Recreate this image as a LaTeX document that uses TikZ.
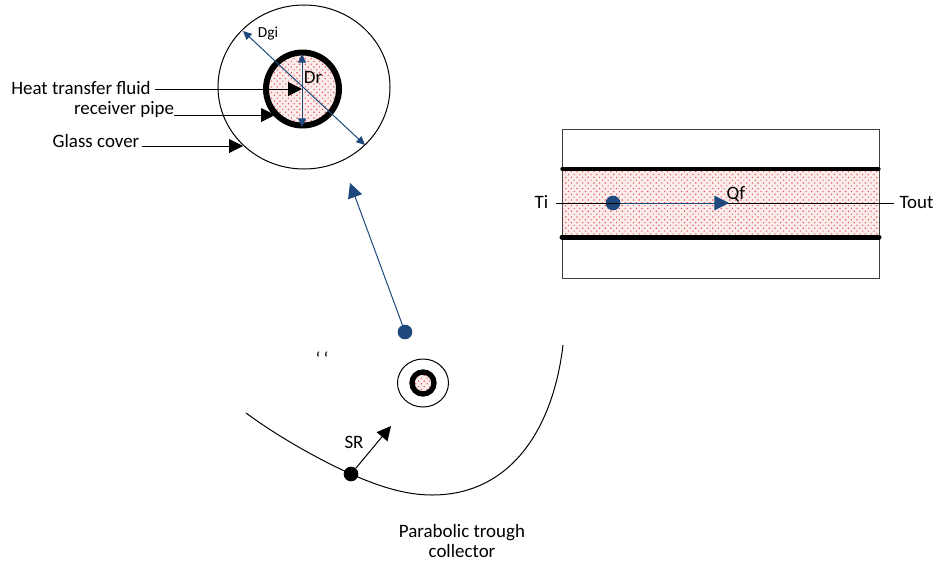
\documentclass[tikz,border=0pt]{standalone}
\usepackage{fontspec}
\setmainfont{Carlito}
\usetikzlibrary{positioning, arrows.meta, patterns.meta}
\definecolor{ink}{HTML}{000000}
\definecolor{flow}{HTML}{1F497D}
\definecolor{fluid}{HTML}{E2504A}

\begin{document}
\begin{tikzpicture}[x=0.75pt, y=-0.75pt, font=\fontsize{14.2}{15.5}\selectfont,
  lbl/.style={inner sep=0pt, align=center},
  fluidfill/.style={preaction={fill=fluid!10}, pattern={Dots[angle=45, distance=3pt, radius=0.6pt]}, pattern color=fluid},
  dotblue/.style={circle, fill=flow, inner sep=0pt, minimum size=11pt},
  dotblack/.style={circle, fill=ink, inner sep=0pt, minimum size=11pt},
  arr/.style={-{Triangle[length=10.5pt, width=10.5pt]}, line width=0.75pt},
  arrblue/.style={-{Triangle[length=11pt, width=11pt]}, line width=0.75pt, flow},
  dim/.style={{Triangle[length=6.5pt, width=6pt]}-{Triangle[length=6.5pt, width=6pt]}, line width=0.75pt, flow}
]
  \useasboundingbox (0,0) rectangle (936,562);

  % cross section
  \draw[line width=0.75pt] (304,87) ellipse [x radius=86, y radius=82];
  \draw[line width=4.5pt, fluidfill] (302.5,89) circle [radius=36.5];

  \node[lbl] (fluidlbl) at (81,88) {Heat transfer fluid};
  \node[lbl] (pipelbl) at (124,110) {receiver pipe};
  \node[lbl] (glasslbl) at (96,141) {Glass cover};
  \node[lbl, font=\fontsize{11.5}{13}\selectfont] (dgilbl) at (268,34) {Dgi};
  \node[lbl] (drlbl) at (313,77) {Dr};

  \coordinate (fluidend) at (302,89);
  \coordinate (pipeend) at (275,115);
  \coordinate (glassend) at (243,146);
  \coordinate (dgia) at (243,31);
  \coordinate (dgib) at (365,145);
  \coordinate (dra) at (302,54);
  \coordinate (drb) at (302,127);

  \draw[arr] (fluidlbl.east |- fluidend) ++(4,0) coordinate (fluidstart) -- (fluidend);
  \draw[arr] (pipelbl.east |- pipeend) coordinate (pipestart) -- (pipeend);
  \draw[arr] (glasslbl.east |- glassend) ++(2,0) coordinate (glassstart) -- (glassend);
  \draw[dim] (dgia) -- (dgib);
  \draw[dim] (dra) -- (drb);

  % long section
  \draw[line width=0.75pt, draw=ink!75] (562.5,129) rectangle (879,278);
  \fill[fluidfill] (562.5,169) rectangle (879,237);
  \draw[line width=2.5pt, line cap=round] (562,169) -- (879,169);
  \draw[line width=3.75pt, line cap=round] (562,237) -- (879,237);

  \node[lbl] (ti) at (541.5,202) {Ti};
  \node[lbl] (tout) at (916.5,202) {Tout};
  \node[lbl] (qf) at (736,194) {Qf};
  \node[dotblue] (inlet) at (613,203) {};
  \coordinate (qfend) at (729,203);

  \draw[line width=0.75pt] (ti.east |- inlet) ++(7,0) coordinate (tistart) -- (894,203) coordinate (toutstart);
  \draw[arrblue] (inlet) -- (qfend);

  % trough
  \draw[line width=0.75pt] (246,413) .. controls (280,438) and (320,460) .. (351,474)
    .. controls (378,486) and (405,495) .. (432,495)
    .. controls (510,495) and (553,430) .. (563,345);

  \draw[line width=0.75pt] (423,383) ellipse [x radius=25.5, y radius=24];
  \draw[line width=4pt, fluidfill] (423,383) circle [radius=11];

  \node[lbl] (quote) at (322,359) {{`}\,{`}};
  \node[lbl] (srlbl) at (354,442) {SR};
  \node[lbl] (ptc) at (462,541) {Parabolic trough\\collector};

  \node[dotblue] (focus) at (405,332) {};
  \coordinate (zoomend) at (350,183);
  \draw[arrblue] (focus) -- (zoomend);

  \node[dotblack] (rim) at (351,474) {};
  \coordinate (srend) at (391,426);
  \draw[arr] (rim) -- (srend);
\end{tikzpicture}
\end{document}
